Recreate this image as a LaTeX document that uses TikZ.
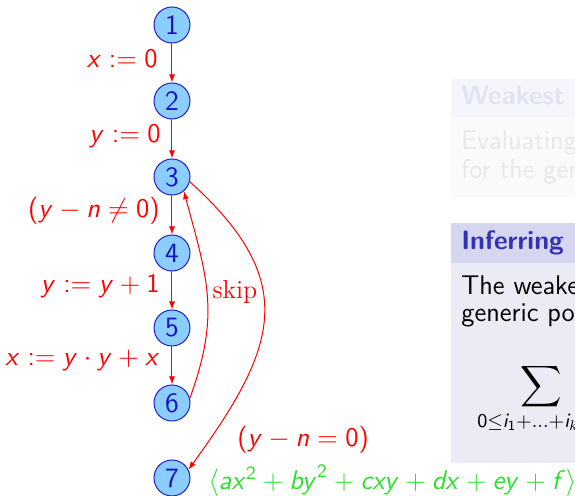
\RequirePackage{fix-cm}
\documentclass[tikz,border=0pt]{standalone}
\usepackage{exscale}
\usetikzlibrary{arrows.meta}
% sans-serif math in the style of a beamer slide
\SetSymbolFont{operators}{normal}{OT1}{cmss}{m}{n}
\DeclareMathAlphabet{\mathsfit}{OT1}{cmss}{m}{sl}
\definecolor{nodefill}{RGB}{140,205,255}
\definecolor{nodeborder}{RGB}{30,30,210}
\definecolor{nodetext}{RGB}{20,20,190}
\definecolor{edgered}{RGB}{255,0,0}
\definecolor{invgreen}{RGB}{40,225,40}
\definecolor{titlebg}{RGB}{214,214,240}
\definecolor{titlefg}{RGB}{51,51,178}
\definecolor{bodybg}{RGB}{235,235,246}
\definecolor{fadetitlebg}{RGB}{245,245,252}
\definecolor{fadetitlefg}{RGB}{226,226,245}
\definecolor{fadebodybg}{RGB}{250,250,251}
\definecolor{fadebodyfg}{RGB}{232,232,232}
\begin{document}
\begin{tikzpicture}[x=0.5pt,y=0.5pt,
  state/.style={circle, draw=nodeborder, fill=nodefill, text=nodetext,
    line width=0.5pt, minimum size=18pt, inner sep=0pt,
    font=\fontsize{14}{16}\selectfont\sffamily},
  flow/.style={draw=edgered, line width=0.5pt, -{Latex[length=4pt,width=3pt]}},
  lbl/.style={text=edgered, inner sep=0pt, anchor=base east,
    font=\fontsize{13.5}{16}\selectfont},
  blocktext/.style={inner sep=0pt, anchor=base west,
    font=\fontsize{13.5}{16}\selectfont\sffamily},
  blocktitle/.style={inner sep=0pt, anchor=base west,
    font=\fontsize{13.3}{16}\selectfont\sffamily\bfseries}]
\useasboundingbox (0,0) rectangle (575,-496);
\clip (0,0) rectangle (575,-496);

% faded block
\fill[fadetitlebg] (451,-79) rectangle (620,-117);
\fill[fadebodybg] (451,-117) rectangle (620,-197);
\node[blocktitle, text=fadetitlefg] (wtitle) at (461,-105) {Weakest preconditions};
\node[blocktext, text=fadebodyfg] (wline1) at (461,-150) {Evaluating the weakest precondition};
\node[blocktext, text=fadebodyfg] (wline2) at (461,-179) {for the generic polynomial};

% current block
\fill[titlebg] (451,-223) rectangle (620,-263);
\fill[bodybg] (451,-263) rectangle (620,-463);
\node[blocktitle, text=titlefg] (ititle) at (461,-250) {Inferring polynomial invariants};
\node[blocktext] (iline1) at (461,-295) {The weakest precondition of the};
\node[blocktext] (iline2) at (461,-322) {generic polynomial is};
\node[inner sep=0pt, anchor=north, font=\fontsize{14}{17}\selectfont] (sum) at (541,-363)
  {$\displaystyle\sum_{0\le \mathsfit{i}_1+\dots+\mathsfit{i}_k\le 2}$};

% states
\node[state] (n1) at (172,-25) {1};
\node[state] (n2) at (172,-101) {2};
\node[state] (n3) at (172,-177) {3};
\node[state] (n4) at (172,-253) {4};
\node[state] (n5) at (172,-328) {5};
\node[state] (n6) at (172,-403) {6};
\node[state] (n7) at (172,-478) {7};

% straight transitions
\draw[flow] (n1) -- (n2);
\draw[flow] (n2) -- (n3);
\draw[flow] (n3) -- (n4);
\draw[flow] (n4) -- (n5);
\draw[flow] (n5) -- (n6);

% loop back and exit
\draw[flow] (n6.15) .. controls +(70:90) and +(-75:90) .. (n3.-50);
\draw[flow] (n3.-15) .. controls +(-42:150) and +(54:150) .. (n7.27);

% transition labels
\node[lbl] (l12) at (158,-68) {$\mathsfit{x} := 0$};
\node[lbl] (l23) at (161,-143) {$\mathsfit{y} := 0$};
\node[lbl] (l34) at (160,-218) {$(\mathsfit{y} - \mathsfit{n} \neq 0)$};
\node[lbl] (l45) at (160,-292.5) {$\mathsfit{y} := \mathsfit{y} + 1$};
\node[lbl] (l56) at (160,-366) {$\mathsfit{x} := \mathsfit{y}\cdot \mathsfit{y} + \mathsfit{x}$};
\node[text=edgered, inner sep=0pt, font=\fontsize{13}{15}\selectfont\rmfamily] (lskip) at (235,-292) {skip};
\node[lbl, anchor=west] (l37) at (237,-439.5) {$(\mathsfit{y} - \mathsfit{n} = 0)$};

% invariant at the exit
\node[inner sep=0pt, anchor=base west, text=invgreen, font=\fontsize{13.5}{16}\selectfont] (inv) at (208,-489.5)
  {$\langle \mathsfit{ax}^2 + \mathsfit{by}^2 + \mathsfit{cxy} + \mathsfit{dx} + \mathsfit{ey} + \mathsfit{f}\rangle$};
\end{tikzpicture}
\end{document}
